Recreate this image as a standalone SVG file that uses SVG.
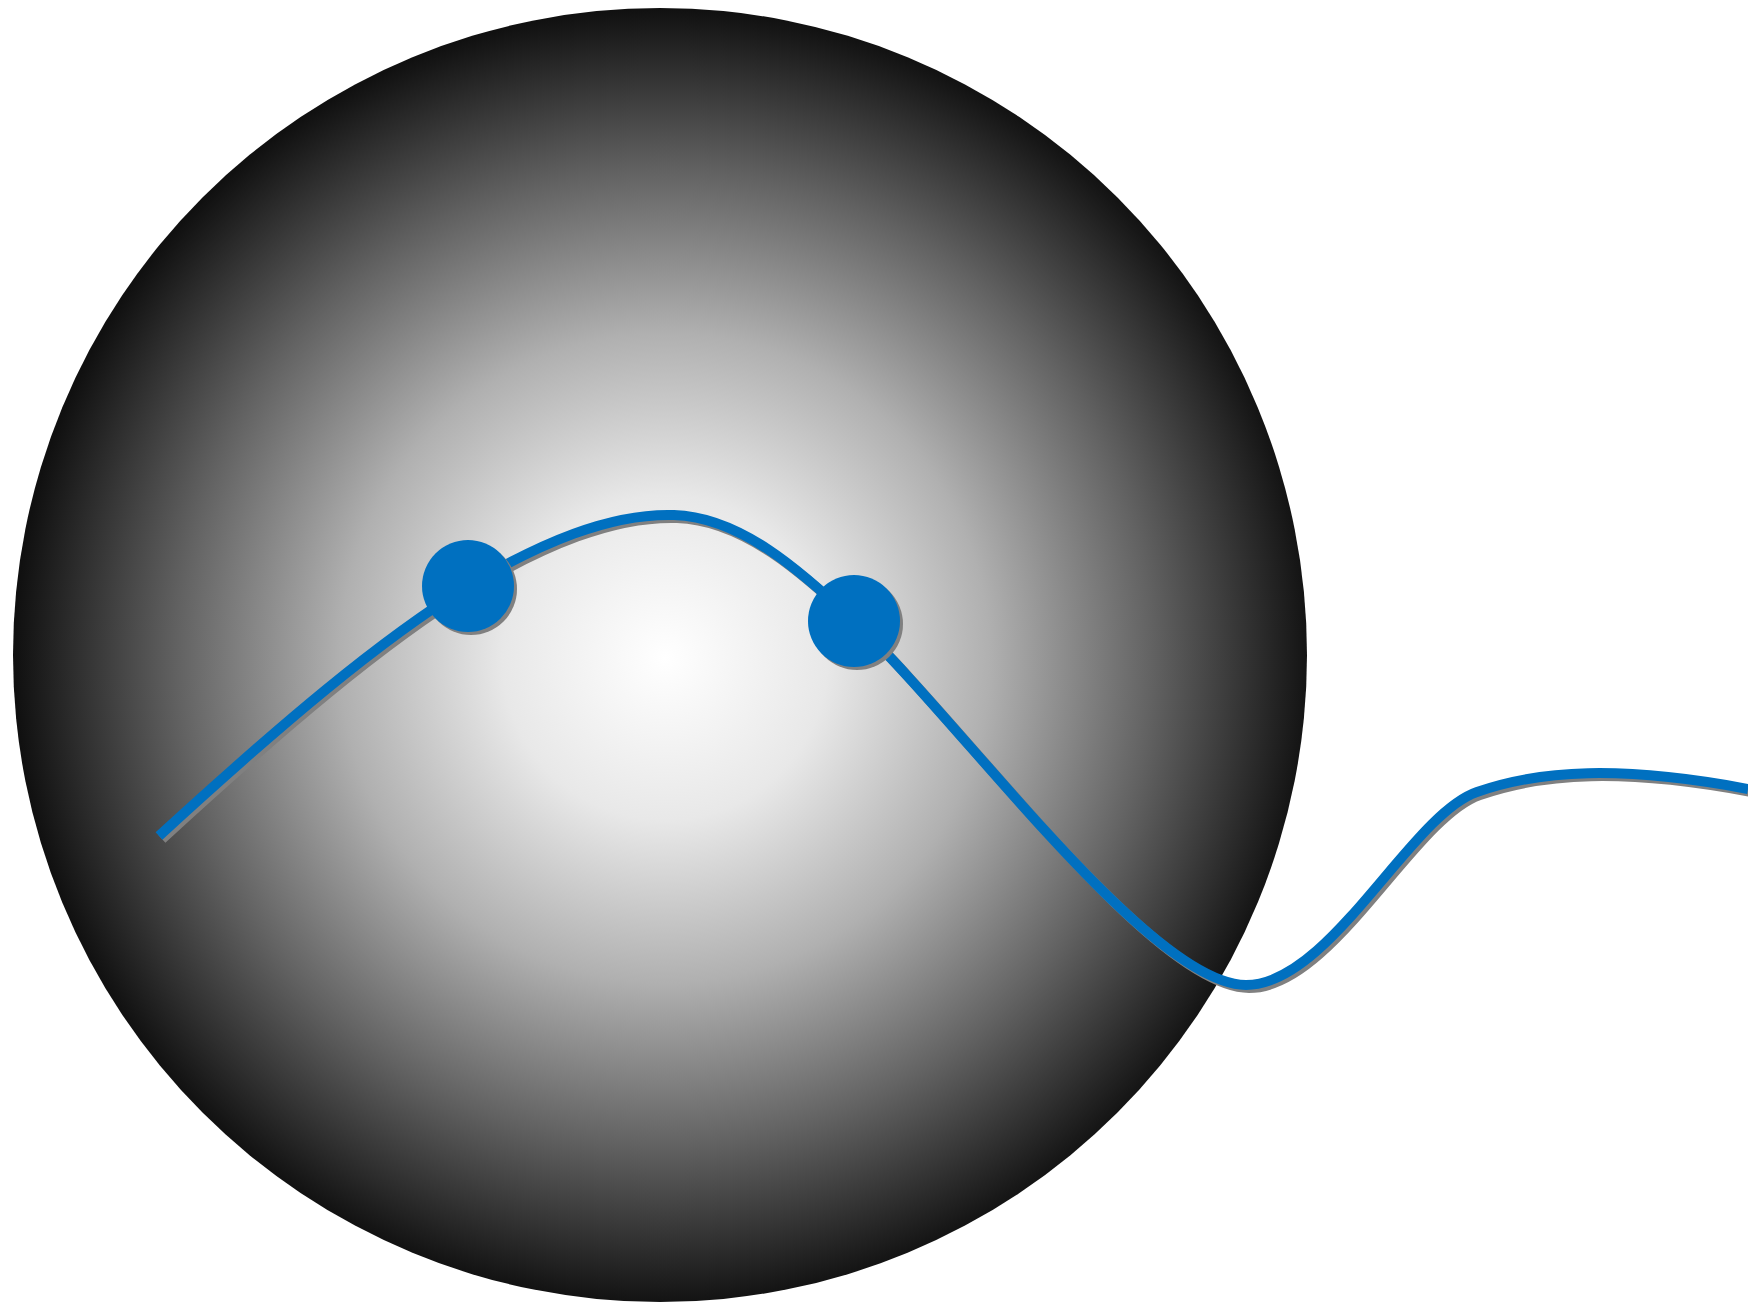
<svg xmlns="http://www.w3.org/2000/svg" width="1748" height="1305" viewBox="0 0 1748 1305">
<style>
.wire{fill:none;stroke:#0070C0;stroke-width:10;stroke-linejoin:round}
.wireShadow{fill:none;stroke:#808080;stroke-width:10;stroke-linejoin:round}
.dot{fill:#0070C0}
.dotShadow{fill:#808080}
</style>
<defs>
<radialGradient id="sphere" cx="665" cy="658" r="650" gradientUnits="userSpaceOnUse">
<stop offset="0" stop-color="#ffffff"/>
<stop offset="0.25" stop-color="#e8e8e8"/>
<stop offset="0.5" stop-color="#b0b0b0"/>
<stop offset="0.75" stop-color="#626262"/>
<stop offset="1" stop-color="#101010"/>
</radialGradient>
</defs>
<rect width="1748" height="1305" fill="#ffffff"/>
<g id="sphere-node">
<circle cx="660" cy="655" r="647" fill="url(#sphere)"/>
</g>
<g id="connectors">
<path class="wireShadow" transform="translate(3,3)" d="M159,836 C280,725 380,640 468,586 C540,543 610,513 674,515 C740,517 800,570 854,621 C960,720 1150,985 1246,985 C1330,985 1410,815 1477,792 C1540,770 1620,765 1748,789"/>
<path class="wire" d="M159,836 C280,725 380,640 468,586 C540,543 610,513 674,515 C740,517 800,570 854,621 C960,720 1150,985 1246,985 C1330,985 1410,815 1477,792 C1540,770 1620,765 1748,789"/>
</g>
<g id="node-1">
<circle class="dotShadow" cx="471" cy="589" r="46"/>
<circle class="dot" cx="468" cy="586" r="46"/>
</g>
<g id="node-2">
<circle class="dotShadow" cx="857" cy="624" r="46"/>
<circle class="dot" cx="854" cy="621" r="46"/>
</g>
</svg>
